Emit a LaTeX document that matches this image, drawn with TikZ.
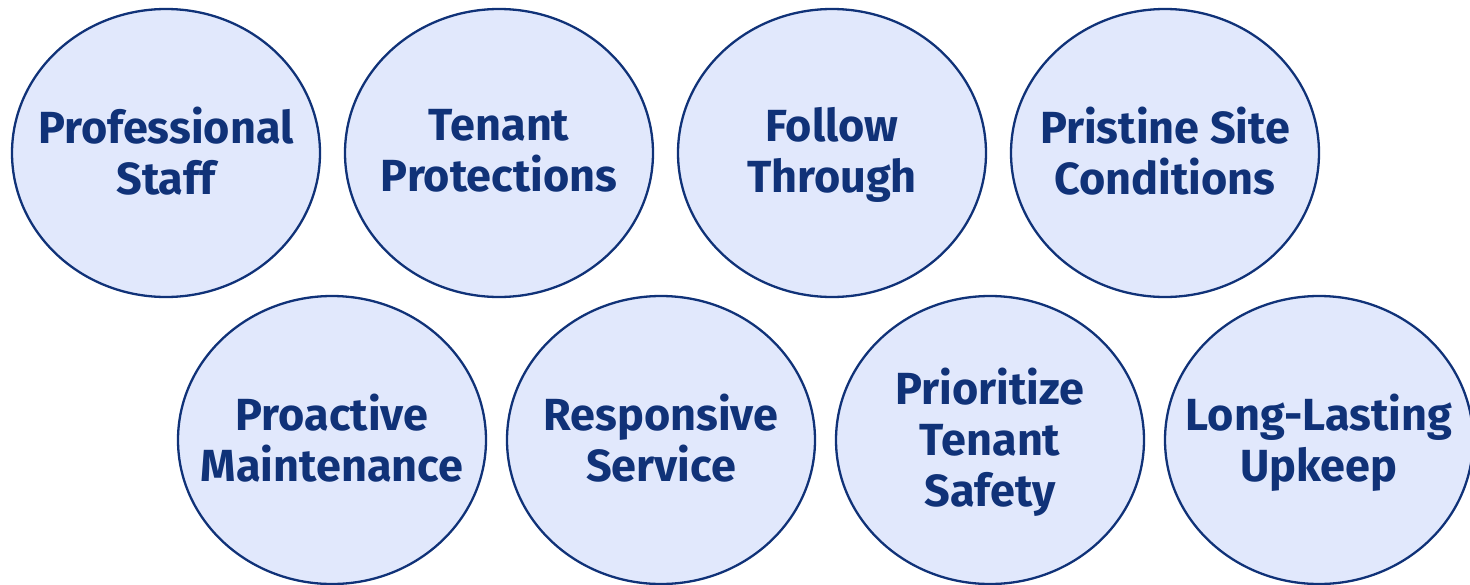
\documentclass[tikz,border=0pt]{standalone}
\usepackage{fontspec}
\setmainfont{Fira Sans}[Ligatures=NoCommon]
\usetikzlibrary{shapes.geometric,positioning}
\definecolor{valuenavy}{RGB}{16,50,120}
\definecolor{valuefill}{RGB}{225,232,252}

\begin{document}
\begin{tikzpicture}[
    x=1pt, y=-1pt,
    value/.style={ellipse, draw=valuenavy, line width=2.3pt, fill=valuefill,
        minimum width=308pt, minimum height=288pt, inner sep=0pt},
    valuetext/.style={text=valuenavy, align=center, inner sep=0pt, yshift=-5pt,
        font=\fontsize{45}{51}\selectfont\bfseries,
        execute at begin node=\strut, execute at end node=\strut},
]
    \useasboundingbox (0,0) rectangle (1470,584);
    % Top row
    \foreach \x/\name/\txt in {166/n1/{Professional\\Staf{\kern0pt}f}, 499/n2/{Tenant\\Protections},
        832/n3/{Follow\\Through}, 1165/n4/{Pristine Site\\Conditions}} {
        \node[value] (\name) at (\x,153) {};
        \node[valuetext] (t\name) at (\name.center) {\txt};
    }
    % Bottom row
    \foreach \x/\name/\txt in {332/n5/{Proactive\\Maintenance}, 661/n6/{Responsive\\Service},
        990/n7/{Prioritize\\Tenant\\Safety}, 1319/n8/{Long-Lasting\\Upkeep}} {
        \node[value] (\name) at (\x,440) {};
        \node[valuetext] (t\name) at (\name.center) {\txt};
    }
\end{tikzpicture}
\end{document}
